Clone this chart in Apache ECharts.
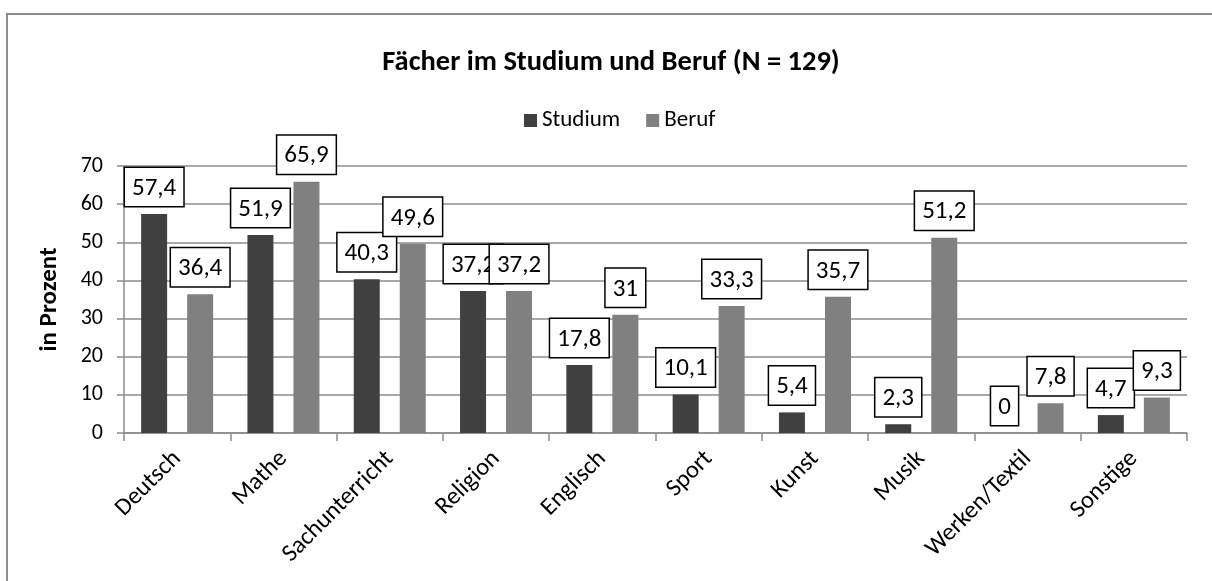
<!DOCTYPE html>
<html>
<head>
<meta charset="utf-8">
<script src="https://cdn.jsdelivr.net/npm/echarts@6/dist/echarts.min.js"></script>
<style>
  html, body { margin: 0; padding: 0; background: #fff; }
  .frame {
    position: absolute;
    left: 6px;
    top: 13px;
    width: 1220px;
    height: 600px;
    border: 2px solid #8c8c8c;
  }
  #chart { position: absolute; left: 0; top: 0; width: 1212px; height: 581px; }
</style>
</head>
<body>
<div class="frame"></div>
<div id="chart"></div>
<script>
var categories = ["Deutsch", "Mathe", "Sachunterricht", "Religion", "Englisch", "Sport", "Kunst", "Musik", "Werken/Textil", "Sonstige"];
var studium = [57.4, 51.9, 40.3, 37.2, 17.8, 10.1, 5.4, 2.3, 0, 4.7];
var beruf = [36.4, 65.9, 49.6, 37.2, 31, 33.3, 35.7, 51.2, 7.8, 9.3];
var yTicks = [0, 10, 20, 30, 40, 50, 60, 70];

var FONT = "Carlito, Lato, sans-serif";

// Label im deutschen Format (Komma statt Punkt)
function fmt(p) {
  return String(p.value).replace(".", ",");
}

var labelStyle = {
  show: true,
  position: "top",
  distance: 8,
  formatter: fmt,
  color: "#000",
  fontFamily: FONT,
  fontSize: 25,
  backgroundColor: "#fff",
  borderColor: "#000",
  borderWidth: 1.5,
  padding: [8, 7, 5, 7]
};

var myChart = echarts.init(document.getElementById("chart"));
myChart.setOption({
  animation: false,
  title: {
    text: "Fächer im Studium und Beruf (N = 129)",
    left: 606,
    textAlign: "center",
    top: 43,
    textStyle: { fontFamily: FONT, fontSize: 28.5, fontWeight: "bold", color: "#000" }
  },
  legend: {
    data: ["Studium", "Beruf"],
    left: 519,
    top: 104,
    itemWidth: 13,
    itemHeight: 13,
    itemGap: 26,
    icon: "rect",
    textStyle: { fontFamily: FONT, fontSize: 23, color: "#000" }
  },
  grid: { left: 124, right: 25, top: 166, bottom: 148 },
  xAxis: {
    type: "category",
    data: categories,
    axisLine: { lineStyle: { color: "#8c8c8c", width: 1.5 } },
    axisTick: { show: true, length: 8, lineStyle: { color: "#8c8c8c", width: 1.5 } },
    axisLabel: {
      rotate: 45,
      margin: 22,
      interval: 0,
      color: "#000",
      fontFamily: FONT,
      fontSize: 24.5
    }
  },
  yAxis: {
    type: "value",
    min: 0,
    max: 70,
    interval: 10,
    name: "in Prozent",
    nameLocation: "middle",
    nameGap: 62,
    nameTextStyle: { fontFamily: FONT, fontSize: 25, fontWeight: "bold", color: "#000" },
    axisLine: { show: true, lineStyle: { color: "#8c8c8c", width: 1.5 } },
    axisTick: { show: true, length: 7, lineStyle: { color: "#8c8c8c", width: 1.5 } },
    axisLabel: {
      margin: 21,
      color: "#000",
      fontFamily: FONT,
      fontSize: 22,
      customValues: yTicks
    },
    splitLine: { lineStyle: { color: "#8c8c8c", width: 1.5 } }
  },
  series: [
    {
      name: "Studium",
      type: "bar",
      data: studium,
      barWidth: 26,
      barGap: "77%",
      itemStyle: { color: "#404040" },
      label: labelStyle
    },
    {
      name: "Beruf",
      type: "bar",
      data: beruf,
      barWidth: 26,
      barGap: "77%",
      itemStyle: { color: "#808080" },
      label: labelStyle
    }
  ]
});
</script>
</body>
</html>
